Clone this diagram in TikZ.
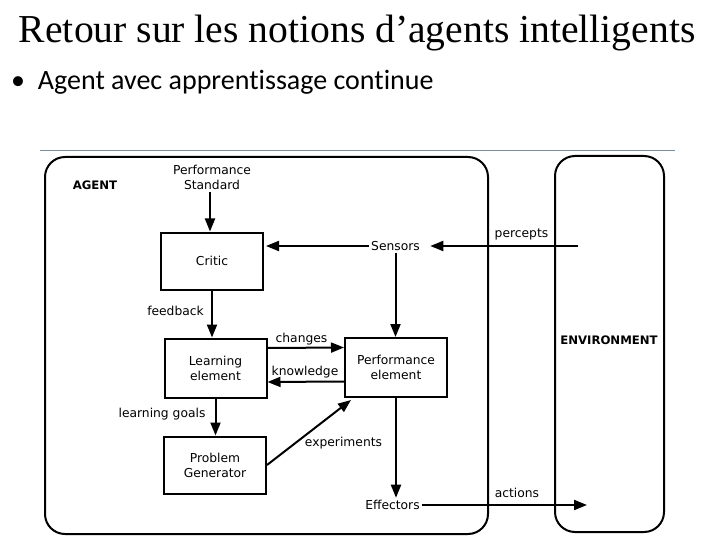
\documentclass[tikz,border=0pt]{standalone}
\usepackage{fontspec}
\setmainfont{DejaVu Sans}
\newfontfamily\titlefont{Liberation Serif}
\newfontfamily\bulletfont[Ligatures=NoCommon]{Carlito}
\usetikzlibrary{arrows.meta}
\definecolor{rulegray}{RGB}{120,140,160}

\begin{document}
\begin{tikzpicture}[x=1pt, y=-1pt, line width=2pt,
    every node/.style={font=\fontsize{12.3}{15}\selectfont, align=center, inner sep=1.5pt},
    block/.style={draw, minimum width=102pt, minimum height=57pt},
    tag/.style={font=\fontsize{11.7}{14}\selectfont\bfseries},
    flow/.style={-{Triangle[length=13pt,width=10pt]}}]
  \useasboundingbox (0,0) rectangle (720,540);
  % slide title and bullet
  \node[font=\fontsize{39.6}{42}\selectfont\titlefont, anchor=base west, inner sep=0pt] (title) at (18,43) {Retour sur les notions d’agents intelligents};
  \node[font=\fontsize{28}{30}\selectfont\bulletfont, anchor=base west, inner sep=0pt] (bullet) at (10,90) {•\hspace{13pt}Agent avec apprentissage continue};
  \draw[rulegray, line width=0.8pt] (40,150) -- (675,150);
  % agent and environment frames
  \draw[rounded corners=20pt] (45,157) rectangle (488,534);
  \draw[rounded corners=20pt] (555,156) rectangle (664,532);
  \node[tag] (agent) at (95,185) {AGENT};
  \node[tag] (env) at (609,340) {ENVIRONMENT};
  % blocks inside the agent
  \node[block] (critic) at (212,261) {Critic};
  \node[block, minimum height=59pt] (learn) at (215.5,368) {Learning\\element};
  \node[block, minimum height=59pt] (perf) at (396,367.5) {Performance\\element};
  \node[block] (probgen) at (215,465) {Problem\\Generator};
  \node (std) at (212,177.5) {Performance\\Standard};
  \node (sensors) at (395.5,246) {Sensors};
  \node (effectors) at (392.5,505) {Effectors};
  \coordinate (percin) at (578,246);
  \coordinate (actout) at (587,505);
  % connectors
  \draw[flow] (std.south -| critic.north) ++(-2,0) -- ([xshift=-2pt]critic.north);
  \draw[flow] (sensors.west) -- ([xshift=2pt]sensors.west -| critic.east);
  \draw[flow, shorten >=8pt] (percin) -- (sensors.east);
  \draw[flow] (sensors.south) -- (sensors.south |- perf.north);
  \draw[flow] (critic.south) -- (critic.south |- learn.north);
  \draw[flow] ([yshift=20pt]learn.east) -- ([yshift=20pt]perf.west);
  \draw[flow] ([yshift=-14pt]perf.west) -- ([yshift=-14pt]learn.east);
  \draw[flow] (learn.south) -- (learn.south |- probgen.north);
  \draw[flow] (probgen.east) -- ([xshift=7pt,yshift=-2pt]perf.south west);
  \draw[flow] (perf.south) -- (perf.south |- effectors.north);
  \draw[flow] (effectors.east) -- (actout);
  % connector labels
  \node (fb) at (175.5,310.5) {feedback};
  \node (chg) at (301.5,339.5) {changes};
  \node (knw) at (305,372.5) {knowledge};
  \node (lg) at (162,414.5) {learning goals};
  \node (exp) at (343.5,443.5) {experiments};
  \node (perc) at (521.5,234) {percepts};
  \node (act) at (517,493) {actions};
\end{tikzpicture}
\end{document}
